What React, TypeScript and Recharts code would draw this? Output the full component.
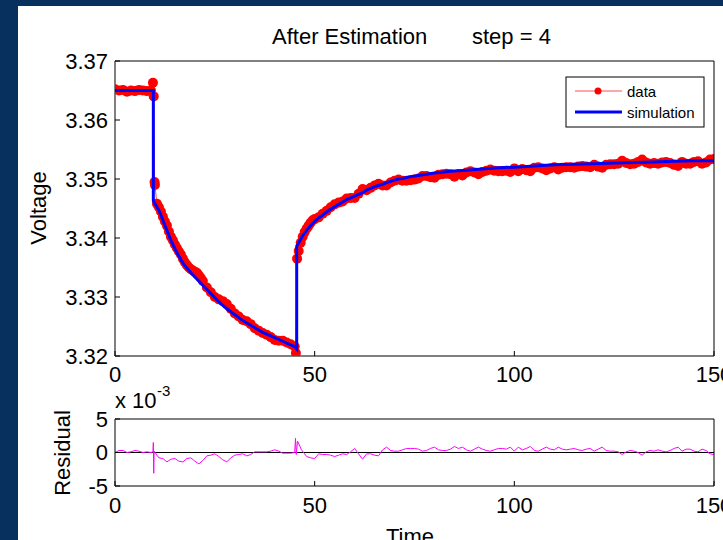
import React from 'react';
import { LineChart, Line, XAxis, YAxis, ReferenceLine } from 'recharts';

const NAVY = '#07305E';
const FONT = '"Liberation Sans", Arial, Helvetica, sans-serif';

const X_TICKS = [0, 50, 100, 150];
const V_TICKS = [3.32, 3.33, 3.34, 3.35, 3.36, 3.37];
const R_TICKS = [-5, 0, 5];

const TITLE_LEFT = 'After Estimation';
const TITLE_RIGHT = 'step = 4';

// measured data (red dots)
const dataTime = [
  0, 1, 2, 3, 4, 5, 6, 7, 8, 9, 9.5, 9.7, 9.9, 10, 10.5,
  11, 11.5, 12, 12.5, 13, 13.5, 14, 14.5, 15, 15.5, 16, 16.5, 17, 17.5, 18, 18.5, 19, 19.5, 20, 20.5, 21, 21.5, 22,
  23, 24, 25, 26, 27, 28, 29, 30,
  31, 32, 33, 34, 35, 36, 37, 38, 39, 40, 41, 42, 43, 44, 45, 45.3, 45.6,
  46, 46.5, 47, 47.5, 48, 48.5, 49, 49.5, 50,
  51, 52, 53, 54, 55, 56, 57, 58, 59, 60, 61, 62, 63, 64, 65,
  66, 67, 68, 69, 70, 71, 72, 73, 74, 75, 76, 77, 78, 79, 80, 81, 82, 83, 84, 85,
  86, 87, 88, 89, 90, 91, 92, 93, 94, 95, 96, 97, 98, 99, 100, 101, 102, 103, 104, 105,
  106, 107, 108, 109, 110, 111, 112, 113, 114, 115, 116, 117, 118, 119, 120, 121, 122, 123, 124, 125,
  126, 127, 128, 129, 130, 131, 132, 133, 134, 135, 136, 137, 138, 139, 140, 141, 142, 143, 144, 145,
  146, 147, 148, 149, 150,
];
const dataVolt = [
  3.3652, 3.3650, 3.3651, 3.3648, 3.3650, 3.3649, 3.3651, 3.3650, 3.3649, 3.3650, 3.3663, 3.3640, 3.3495, 3.3490, 3.3458,
  3.3452, 3.3445, 3.3436, 3.3428, 3.3421, 3.3411, 3.3402, 3.3396, 3.3389, 3.3383, 3.3377, 3.3372, 3.3365, 3.3359, 3.3354, 3.3350, 3.3347, 3.3345, 3.3343, 3.3341, 3.3337, 3.3332, 3.3327,
  3.3316, 3.3308, 3.3300, 3.3296, 3.3293, 3.3288, 3.3280, 3.3272,
  3.3267, 3.3261, 3.3259, 3.3254, 3.3247, 3.3243, 3.3239, 3.3236, 3.3232, 3.3227, 3.3226, 3.3226, 3.3223, 3.3220, 3.3216, 3.3205, 3.3365,
  3.3378, 3.3392, 3.3402, 3.3410, 3.3416, 3.3421, 3.3426, 3.3430, 3.3432,
  3.3435, 3.3441, 3.3446, 3.3452, 3.3457, 3.3460, 3.3462, 3.3467, 3.3468, 3.3468, 3.3475, 3.3483, 3.3481, 3.3485, 3.3489,
  3.3492, 3.3489, 3.3489, 3.3494, 3.3497, 3.3499, 3.3497, 3.3497, 3.3498, 3.3499, 3.3501, 3.3505, 3.3505, 3.3503, 3.3502, 3.3507, 3.3508, 3.3509, 3.3508, 3.3504,
  3.3508, 3.3506, 3.3511, 3.3513, 3.3511, 3.3508, 3.3512, 3.3514, 3.3516, 3.3514, 3.3513, 3.3513, 3.3514, 3.3512, 3.3518, 3.3513, 3.3517, 3.3515, 3.3513, 3.3519,
  3.3520, 3.3518, 3.3515, 3.3518, 3.3520, 3.3516, 3.3519, 3.3520, 3.3520, 3.3519, 3.3521, 3.3522, 3.3521, 3.3520, 3.3524, 3.3521, 3.3519, 3.3524, 3.3525, 3.3525,
  3.3526, 3.3531, 3.3527, 3.3525, 3.3526, 3.3529, 3.3533, 3.3528, 3.3526, 3.3527, 3.3526, 3.3528, 3.3529, 3.3527, 3.3524, 3.3522, 3.3529, 3.3526, 3.3526, 3.3529,
  3.3530, 3.3526, 3.3528, 3.3533, 3.3534,
];

// model simulation (blue line)
const simTime = [
  0, 9.6, 9.6, 10, 11, 12, 13, 14, 15, 16, 17, 18, 19, 20, 21, 22, 23, 24, 25, 26, 27, 28, 29, 30,
  31, 32, 33, 34, 35, 36, 37, 38, 39, 40, 41, 42, 43, 44, 45, 45.5, 45.5,
  46, 47, 48, 49, 50, 51, 52, 53, 54, 55, 56, 57, 58, 59, 60, 61, 62, 63, 64, 65, 66, 67, 68, 69, 70, 71,
  72, 74, 76, 78, 80, 84, 88, 92, 96, 100, 105, 110, 115, 120, 125, 130, 135, 140, 145, 150,
];
const simVolt = [
  3.3650, 3.3650, 3.3463, 3.3458, 3.3447, 3.3430, 3.3413, 3.3396, 3.3382, 3.3369, 3.3358, 3.3349, 3.3341, 3.3334, 3.3327, 3.3320, 3.3313, 3.3306, 3.3299, 3.3292, 3.3286, 3.3280, 3.3275, 3.3270,
  3.3265, 3.3260, 3.3256, 3.3252, 3.3248, 3.3244, 3.3240, 3.3237, 3.3234, 3.3231, 3.3228, 3.3225, 3.3222, 3.3219, 3.3216, 3.3212, 3.3386,
  3.3392, 3.3404, 3.3413, 3.3421, 3.3428, 3.3434, 3.3439, 3.3444, 3.3449, 3.3453, 3.3457, 3.3461, 3.3465, 3.3468, 3.3471, 3.3474, 3.3477, 3.3481, 3.3484, 3.3487, 3.3489, 3.3491, 3.3494, 3.3496, 3.3498, 3.3500,
  3.3501, 3.3504, 3.3506, 3.3508, 3.3510, 3.3513, 3.3515, 3.3517, 3.3519, 3.3520, 3.3522, 3.3524, 3.3525, 3.3526, 3.3527, 3.3528, 3.3529, 3.3530, 3.3531, 3.3531,
];

// residual (x 10^-3), magenta
const resTime = [
  0, 1, 2, 3, 4, 5, 6, 7, 8, 9, 9.5, 9.6, 9.7, 9.8, 10.5,
  11, 12, 13, 14, 15, 16, 17, 18, 19, 20, 21, 22, 23, 24, 25, 26, 27, 28, 29, 30,
  31, 32, 33, 34, 35, 36, 37, 38, 39, 40, 41, 42, 43, 44, 45, 45.2, 45.4, 45.7, 46.7,
  48, 49, 50, 51, 52, 53, 54, 55, 56, 57, 58, 59, 60, 61, 62, 63, 64, 65,
  66, 67, 68, 69, 70, 71, 72, 73, 74, 75, 76, 77, 78, 79, 80, 81, 82, 83, 84, 85,
  86, 87, 88, 89, 90, 91, 92, 93, 94, 95, 96, 97, 98, 99, 100, 101, 102, 103, 104, 105,
  106, 107, 108, 109, 110, 111, 112, 113, 114, 115, 116, 117, 118, 119, 120, 121, 122, 123, 124, 125,
  126, 127, 128, 129, 130, 131, 132, 133, 134, 135, 136, 137, 138, 139, 140, 141, 142, 143, 144, 145,
  146, 147, 148, 149, 150,
];
const resVal = [
  0.0, 0.3, 0.3, 0.0, 0.1, 0.3, 0.2, 0.0, 0.1, 0.0, 0.1, 1.5, -3.1, 0.2, -0.4,
  -0.8, -0.9, -1.4, -1.0, -0.9, -1.3, -1.4, -0.9, -0.8, -1.3, -1.7, -1.2, -0.5, -0.4, -0.2, -0.6, -1.1, -1.4, -0.8, -0.4,
  -0.3, -0.2, -0.5, -0.3, 0.1, 0.1, 0.1, 0.1, 0.2, 0.4, 0.2, -0.1, -0.1, -0.1, 0.0, 2.1, -0.3, 1.7, 0.4,
  -0.6, -0.8, -0.9, -0.2, -0.3, -0.3, -0.4, -0.6, -0.4, -0.2, -0.3, 0.1, 0.6, -0.2, -1.0, -0.2, -0.2, -0.4,
  -0.5, 0.4, 0.8, 0.3, 0.2, 0.2, 0.4, 0.6, 0.6, 0.6, 0.5, 0.2, 0.3, 0.6, 0.8, 0.4, 0.3, 0.3, 0.5, 0.9,
  0.6, 0.8, 0.4, 0.2, 0.5, 0.8, 0.5, 0.3, 0.2, 0.4, 0.6, 0.6, 0.5, 0.8, 0.2, 0.8, 0.4, 0.6, 0.9, 0.3,
  0.2, 0.5, 0.8, 0.5, 0.4, 0.8, 0.5, 0.4, 0.5, 0.6, 0.4, 0.3, 0.5, 0.6, 0.2, 0.5, 0.8, 0.3, 0.2, 0.2,
  0.1, -0.3, 0.1, 0.3, 0.2, 0.0, -0.4, 0.1, 0.3, 0.2, 0.4, 0.2, 0.1, 0.3, 0.6, 0.8, 0.2, 0.5, 0.5, 0.2,
  0.1, 0.5, 0.3, -0.2, -0.3,
];

const dataPts = dataTime.map((t, i) => ({ t, v: dataVolt[i] }));
const simPts = simTime.map((t, i) => ({ t, v: simVolt[i] }));
const resPts = resTime.map((t, i) => ({ t, r: resVal[i] }));

const axisLine = { stroke: '#000', strokeWidth: 1 };
const tickLine = { stroke: '#000', strokeWidth: 1 };
const tickStyle = { fill: '#000', fontSize: 22, fontFamily: FONT };

export default function App() {
  return (
    <div
      style={{
        position: 'absolute',
        left: 0,
        top: 0,
        width: 723,
        height: 540,
        background: NAVY,
        overflow: 'hidden',
        fontFamily: FONT,
      }}
    >
      <div style={{ position: 'absolute', left: 18, top: 6, width: 705, height: 534, background: '#fff' }} />

      {/* main plot: data + bottom/left axes */}
      <div style={{ position: 'absolute', left: 0, top: 0 }}>
        <LineChart width={723} height={400} margin={{ top: 61, right: 9, bottom: 14, left: 55 }}>
          <XAxis
            dataKey="t"
            type="number"
            domain={[0, 150]}
            ticks={X_TICKS}
            interval={0}
            height={30}
            tickSize={-5}
            tickMargin={15}
            axisLine={axisLine}
            tickLine={tickLine}
            tick={tickStyle}
            allowDataOverflow
          />
          <YAxis
            type="number"
            domain={[3.32, 3.37]}
            ticks={V_TICKS}
            interval={0}
            width={60}
            tickSize={-5}
            tickMargin={12}
            axisLine={axisLine}
            tickLine={tickLine}
            tick={tickStyle}
            tickFormatter={(v: number) => v.toFixed(2)}
            allowDataOverflow
          />
          <Line
            data={dataPts}
            dataKey="v"
            type="linear"
            stroke="#ff4d4d"
            strokeWidth={1}
            dot={{ r: 5, fill: '#ff0000', stroke: 'none' }}
            isAnimationActive={false}
          />
        </LineChart>
      </div>

      {/* main plot overlay: simulation line + top/right axes */}
      <div style={{ position: 'absolute', left: 0, top: 0 }}>
        <LineChart width={723} height={400} margin={{ top: 60, right: 8, bottom: 44, left: 115 }}>
          <XAxis
            xAxisId="top"
            orientation="top"
            dataKey="t"
            type="number"
            domain={[0, 150]}
            ticks={X_TICKS}
            interval={0}
            height={1}
            tickSize={-5}
            axisLine={axisLine}
            tickLine={tickLine}
            tick={false}
            allowDataOverflow
          />
          <YAxis
            yAxisId="right"
            orientation="right"
            type="number"
            domain={[3.32, 3.37]}
            ticks={V_TICKS}
            interval={0}
            width={1}
            tickSize={-5}
            axisLine={axisLine}
            tickLine={tickLine}
            tick={false}
            allowDataOverflow
          />
          <Line
            xAxisId="top"
            yAxisId="right"
            data={simPts}
            dataKey="v"
            type="linear"
            stroke="#0000ff"
            strokeWidth={3}
            dot={false}
            isAnimationActive={false}
          />
        </LineChart>
      </div>

      {/* residual plot */}
      <div style={{ position: 'absolute', left: 0, top: 380 }}>
        <LineChart width={723} height={160} margin={{ top: 38, right: 8, bottom: 24, left: 55 }}>
          <XAxis
            dataKey="t"
            type="number"
            domain={[0, 150]}
            ticks={X_TICKS}
            interval={0}
            height={30}
            tickSize={-5}
            tickMargin={16}
            axisLine={axisLine}
            tickLine={tickLine}
            tick={tickStyle}
            allowDataOverflow
          />
          <XAxis
            xAxisId="top"
            orientation="top"
            dataKey="t"
            type="number"
            domain={[0, 150]}
            ticks={X_TICKS}
            interval={0}
            height={1}
            tickSize={-5}
            axisLine={axisLine}
            tickLine={tickLine}
            tick={false}
            allowDataOverflow
          />
          <YAxis
            type="number"
            domain={[-5, 5]}
            ticks={R_TICKS}
            interval={0}
            width={60}
            tickSize={-5}
            tickMargin={12}
            axisLine={axisLine}
            tickLine={tickLine}
            tick={tickStyle}
            allowDataOverflow
          />
          <YAxis
            yAxisId="right"
            orientation="right"
            type="number"
            domain={[-5, 5]}
            ticks={R_TICKS}
            interval={0}
            width={1}
            tickSize={-5}
            axisLine={axisLine}
            tickLine={tickLine}
            tick={false}
            allowDataOverflow
          />
          <ReferenceLine y={0} stroke="#000" strokeWidth={1} />
          <Line
            data={resPts}
            dataKey="r"
            type="linear"
            stroke="#ff00ff"
            strokeWidth={1}
            dot={false}
            isAnimationActive={false}
          />
          <Line
            xAxisId="top"
            yAxisId="right"
            data={resPts}
            dataKey="r"
            type="linear"
            stroke="none"
            strokeWidth={0}
            dot={false}
            isAnimationActive={false}
          />
        </LineChart>
      </div>

      <svg
        width={723}
        height={540}
        style={{ position: 'absolute', left: 0, top: 0, pointerEvents: 'none' }}
        fontFamily={FONT}
      >
        <text x={272} y={44} fontSize={22} fill="#000">{TITLE_LEFT}</text>
        <text x={472} y={44} fontSize={22} fill="#000">{TITLE_RIGHT}</text>
        <text x={46} y={208} fontSize={22} fill="#000" textAnchor="middle" transform="rotate(-90 46 208)">
          Voltage
        </text>
        <text x={70} y={453} fontSize={22} fill="#000" textAnchor="middle" transform="rotate(-90 70 453)">
          Residual
        </text>
        <text x={115} y={408} fontSize={22} fill="#000">x 10</text>
        <text x={157} y={396} fontSize={15} fill="#000">-3</text>
        <text x={410} y={544} fontSize={22} fill="#000" textAnchor="middle">Time</text>

        <rect x={566} y={77} width={138} height={50} fill="#fff" stroke="#000" strokeWidth={1} />
        <line x1={575} y1={91} x2={622} y2={91} stroke="#ff4d4d" strokeWidth={1} />
        <circle cx={598} cy={91} r={3.5} fill="#ff0000" />
        <text x={627} y={97} fontSize={15} fill="#000">data</text>
        <line x1={575} y1={112} x2={622} y2={112} stroke="#0000ff" strokeWidth={3} />
        <text x={627} y={118} fontSize={15} fill="#000">simulation</text>
      </svg>
    </div>
  );
}
